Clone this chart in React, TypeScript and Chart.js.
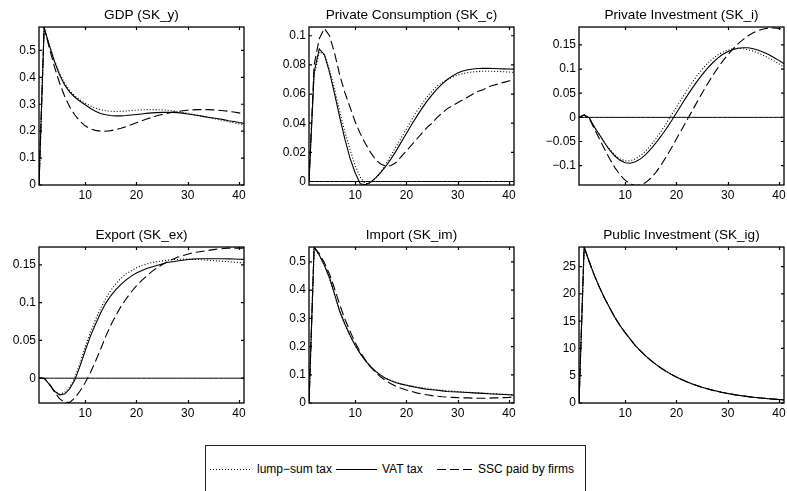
import React, { useEffect, useRef } from "react";
import { Chart, registerables } from "chart.js";

Chart.register(...registerables);

// ---------- data ----------
const PERIODS = [1, 2, 3, 4, 5, 6, 7, 8, 9, 10, 11, 12, 13, 14, 15, 16, 17, 18, 19, 20, 21, 22, 23, 24, 25, 26, 27, 28, 29, 30, 31, 32, 33, 34, 35, 36, 37, 38, 39, 40, 41];
const SERIES_LABELS = ["lump\u2212sum tax", "VAT tax", "SSC paid by firms"];
const X_TICKS = [10, 20, 30, 40];

const GDP_LUMP = [0, 0.585, 0.52, 0.463, 0.415, 0.378, 0.351, 0.331, 0.316, 0.304, 0.294, 0.286, 0.28, 0.276, 0.274, 0.273, 0.274, 0.275, 0.277, 0.278, 0.279, 0.28, 0.28, 0.28, 0.279, 0.278, 0.276, 0.273, 0.27, 0.267, 0.263, 0.259, 0.255, 0.251, 0.247, 0.243, 0.239, 0.235, 0.231, 0.227, 0.222];
const GDP_VAT = [0, 0.585, 0.52, 0.46, 0.41, 0.372, 0.345, 0.326, 0.311, 0.298, 0.285, 0.274, 0.266, 0.261, 0.258, 0.257, 0.257, 0.258, 0.26, 0.262, 0.264, 0.266, 0.268, 0.269, 0.27, 0.27, 0.27, 0.269, 0.267, 0.264, 0.261, 0.258, 0.255, 0.252, 0.249, 0.246, 0.243, 0.239, 0.236, 0.232, 0.229];
const GDP_SSC = [0, 0.585, 0.51, 0.44, 0.38, 0.33, 0.29, 0.26, 0.237, 0.22, 0.209, 0.203, 0.2, 0.2, 0.202, 0.206, 0.211, 0.217, 0.224, 0.231, 0.238, 0.245, 0.251, 0.257, 0.262, 0.266, 0.27, 0.273, 0.276, 0.278, 0.279, 0.28, 0.28, 0.28, 0.279, 0.278, 0.276, 0.274, 0.271, 0.268, 0.264];

const CONS_LUMP = [0, 0.073, 0.089, 0.087, 0.077, 0.063, 0.048, 0.034, 0.022, 0.011, 0.003, -0.0015, -0.001, 0.002, 0.0065, 0.012, 0.018, 0.024, 0.03, 0.036, 0.042, 0.048, 0.053, 0.058, 0.062, 0.0655, 0.068, 0.07, 0.0717, 0.073, 0.074, 0.0747, 0.0752, 0.0755, 0.0757, 0.0757, 0.0756, 0.0755, 0.0753, 0.0751, 0.0749];
const CONS_VAT = [0, 0.075, 0.091, 0.087, 0.075, 0.06, 0.044, 0.029, 0.016, 0.006, -0.0015, -0.0022, -0.0005, 0.0025, 0.0062, 0.0105, 0.0155, 0.021, 0.027, 0.033, 0.039, 0.0445, 0.05, 0.055, 0.0595, 0.0635, 0.067, 0.07, 0.0725, 0.0745, 0.0758, 0.0767, 0.0772, 0.0775, 0.0776, 0.0776, 0.0775, 0.0774, 0.0773, 0.0772, 0.0771];
const CONS_SSC = [0, 0.08, 0.098, 0.105, 0.1, 0.088, 0.073, 0.061, 0.051, 0.041, 0.033, 0.026, 0.02, 0.015, 0.012, 0.0105, 0.011, 0.013, 0.017, 0.021, 0.025, 0.029, 0.033, 0.037, 0.04, 0.044, 0.047, 0.05, 0.052, 0.054, 0.056, 0.058, 0.06, 0.062, 0.063, 0.065, 0.066, 0.067, 0.068, 0.069, 0.07];

const INV_LUMP = [0, 0.005, -0.001, -0.02, -0.036, -0.052, -0.066, -0.078, -0.086, -0.09, -0.09, -0.086, -0.079, -0.07, -0.058, -0.044, -0.029, -0.013, 0.004, 0.021, 0.038, 0.055, 0.071, 0.086, 0.099, 0.111, 0.121, 0.129, 0.135, 0.139, 0.142, 0.143, 0.142, 0.14, 0.137, 0.133, 0.128, 0.123, 0.117, 0.111, 0.104];
const INV_VAT = [0, 0.005, -0.001, -0.02, -0.036, -0.053, -0.068, -0.08, -0.089, -0.094, -0.095, -0.092, -0.086, -0.077, -0.066, -0.053, -0.039, -0.024, -0.008, 0.009, 0.026, 0.043, 0.059, 0.074, 0.088, 0.101, 0.112, 0.122, 0.13, 0.136, 0.14, 0.143, 0.144, 0.144, 0.142, 0.139, 0.135, 0.13, 0.124, 0.118, 0.111];
const INV_SSC = [0, 0.005, -0.002, -0.024, -0.045, -0.066, -0.086, -0.104, -0.119, -0.13, -0.138, -0.141, -0.14, -0.135, -0.126, -0.114, -0.099, -0.082, -0.064, -0.045, -0.026, -0.007, 0.012, 0.031, 0.05, 0.068, 0.085, 0.101, 0.116, 0.129, 0.141, 0.152, 0.161, 0.169, 0.175, 0.18, 0.183, 0.185, 0.185, 0.184, 0.182];

const EX_LUMP = [0, 0, -0.008, -0.017, -0.021, -0.019, -0.012, 0.001, 0.02, 0.041, 0.06, 0.077, 0.092, 0.105, 0.116, 0.125, 0.132, 0.138, 0.142, 0.146, 0.149, 0.151, 0.153, 0.154, 0.155, 0.156, 0.157, 0.157, 0.1575, 0.1575, 0.157, 0.157, 0.1565, 0.156, 0.1555, 0.155, 0.1545, 0.154, 0.1535, 0.153, 0.1525];
const EX_VAT = [0, 0, -0.008, -0.017, -0.022, -0.021, -0.014, -0.002, 0.016, 0.036, 0.055, 0.071, 0.086, 0.099, 0.109, 0.117, 0.124, 0.13, 0.135, 0.139, 0.142, 0.145, 0.147, 0.149, 0.151, 0.153, 0.154, 0.155, 0.156, 0.157, 0.1575, 0.158, 0.158, 0.158, 0.158, 0.158, 0.158, 0.1578, 0.1576, 0.1574, 0.1572];
const EX_SSC = [0, 0, -0.007, -0.018, -0.027, -0.032, -0.032, -0.026, -0.017, -0.006, 0.007, 0.022, 0.038, 0.055, 0.07, 0.083, 0.095, 0.105, 0.114, 0.122, 0.129, 0.135, 0.141, 0.146, 0.15, 0.154, 0.157, 0.16, 0.162, 0.164, 0.166, 0.167, 0.168, 0.169, 0.17, 0.171, 0.1715, 0.172, 0.172, 0.172, 0.172];

const IM_LUMP = [0, 0.552, 0.524, 0.486, 0.441, 0.383, 0.323, 0.278, 0.239, 0.204, 0.175, 0.15, 0.13, 0.113, 0.099, 0.088, 0.08, 0.073, 0.068, 0.064, 0.06, 0.057, 0.054, 0.051, 0.049, 0.047, 0.045, 0.043, 0.042, 0.041, 0.039, 0.038, 0.037, 0.036, 0.035, 0.034, 0.033, 0.032, 0.031, 0.03, 0.029];
const IM_VAT = [0, 0.552, 0.525, 0.488, 0.445, 0.385, 0.325, 0.28, 0.24, 0.205, 0.175, 0.15, 0.13, 0.112, 0.098, 0.087, 0.079, 0.072, 0.067, 0.063, 0.059, 0.055, 0.052, 0.049, 0.047, 0.045, 0.043, 0.041, 0.04, 0.039, 0.038, 0.037, 0.036, 0.035, 0.034, 0.033, 0.032, 0.031, 0.03, 0.029, 0.028];
const IM_SSC = [0, 0.552, 0.53, 0.497, 0.457, 0.405, 0.348, 0.298, 0.254, 0.215, 0.181, 0.152, 0.128, 0.108, 0.092, 0.079, 0.068, 0.059, 0.052, 0.046, 0.041, 0.036, 0.032, 0.029, 0.026, 0.024, 0.022, 0.021, 0.02, 0.019, 0.018, 0.018, 0.017, 0.017, 0.017, 0.017, 0.018, 0.018, 0.019, 0.02, 0.022];

const PUB_LUMP = [0, 28.6, 25.9, 23.4, 21.2, 19.2, 17.4, 15.7, 14.2, 12.9, 11.7, 10.5, 9.55, 8.64, 7.82, 7.08, 6.41, 5.8, 5.25, 4.75, 4.3, 3.89, 3.52, 3.19, 2.88, 2.61, 2.36, 2.14, 1.93, 1.75, 1.58, 1.43, 1.3, 1.17, 1.06, 0.96, 0.87, 0.79, 0.71, 0.64, 0.58];
const PUB_VAT = [0, 28.6, 25.9, 23.4, 21.2, 19.2, 17.4, 15.7, 14.2, 12.9, 11.7, 10.5, 9.55, 8.64, 7.82, 7.08, 6.41, 5.8, 5.25, 4.75, 4.3, 3.89, 3.52, 3.19, 2.88, 2.61, 2.36, 2.14, 1.93, 1.75, 1.58, 1.43, 1.3, 1.17, 1.06, 0.96, 0.87, 0.79, 0.71, 0.64, 0.58];
const PUB_SSC = [0, 28.6, 25.9, 23.4, 21.2, 19.2, 17.4, 15.7, 14.2, 12.9, 11.7, 10.5, 9.55, 8.64, 7.82, 7.08, 6.41, 5.8, 5.25, 4.75, 4.3, 3.89, 3.52, 3.19, 2.88, 2.61, 2.36, 2.14, 1.93, 1.75, 1.58, 1.43, 1.3, 1.17, 1.06, 0.96, 0.87, 0.79, 0.71, 0.64, 0.58];

const GDP_YTICKS = [0, 0.1, 0.2, 0.3, 0.4, 0.5];
const CONS_YTICKS = [0, 0.02, 0.04, 0.06, 0.08, 0.1];
const INV_YTICKS = [-0.1, -0.05, 0, 0.05, 0.1, 0.15];
const EX_YTICKS = [0, 0.05, 0.1, 0.15];
const IM_YTICKS = [0, 0.1, 0.2, 0.3, 0.4, 0.5];
const PUB_YTICKS = [0, 5, 10, 15, 20, 25];

// ---------- layout / style ----------
const FONT = "'Liberation Sans', Arial, Helvetica, sans-serif";
const PAD_L = 39;
const PAD_T = 27;
const PAD_R = 3;
const PAD_B = 20;
const PLOT_W = 205;
const DASHES = [[1, 2], [], [9, 4]];

type PanelCfg = {
  title: string;
  series: number[][];
  yTicks: number[];
  yMin: number;
  yMax: number;
  zero: boolean;
  left: number;
  top: number;
  height: number;
};

const PANELS: PanelCfg[] = [
  { title: "GDP (SK_y)", series: [GDP_LUMP, GDP_VAT, GDP_SSC], yTicks: GDP_YTICKS, yMin: 0, yMax: 0.587, zero: false, left: 39, top: 27, height: 158 },
  { title: "Private Consumption (SK_c)", series: [CONS_LUMP, CONS_VAT, CONS_SSC], yTicks: CONS_YTICKS, yMin: -0.0024, yMax: 0.106, zero: true, left: 309, top: 27, height: 158 },
  { title: "Private Investment (SK_i)", series: [INV_LUMP, INV_VAT, INV_SSC], yTicks: INV_YTICKS, yMin: -0.14, yMax: 0.187, zero: true, left: 579, top: 27, height: 158 },
  { title: "Export (SK_ex)", series: [EX_LUMP, EX_VAT, EX_SSC], yTicks: EX_YTICKS, yMin: -0.0328, yMax: 0.1735, zero: true, left: 39, top: 247, height: 156 },
  { title: "Import (SK_im)", series: [IM_LUMP, IM_VAT, IM_SSC], yTicks: IM_YTICKS, yMin: 0, yMax: 0.553, zero: false, left: 309, top: 247, height: 156 },
  { title: "Public Investment (SK_ig)", series: [PUB_LUMP, PUB_VAT, PUB_SSC], yTicks: PUB_YTICKS, yMin: 0, yMax: 28.6, zero: false, left: 579, top: 247, height: 156 },
];

const fmtTick = (v: number) => {
  const s = String(Math.round(v * 10000) / 10000);
  return s.replace("-", "\u2212");
};

const boxPlugin = {
  id: "matlabBox",
  afterDatasetsDraw(chart: any) {
    const { ctx, chartArea: a, scales } = chart;
    const tl = 3;
    ctx.save();
    ctx.strokeStyle = "#000";
    ctx.lineWidth = 1.2;
    ctx.beginPath();
    scales.x.ticks.forEach((t: any) => {
      const px = Math.round(scales.x.getPixelForValue(t.value)) + 0.5;
      ctx.moveTo(px, a.bottom);
      ctx.lineTo(px, a.bottom - tl);
      ctx.moveTo(px, a.top);
      ctx.lineTo(px, a.top + tl);
    });
    scales.y.ticks.forEach((t: any) => {
      const py = scales.y.getPixelForValue(t.value);
      ctx.moveTo(a.left, py);
      ctx.lineTo(a.left + tl, py);
      ctx.moveTo(a.right, py);
      ctx.lineTo(a.right - tl, py);
    });
    ctx.stroke();
    ctx.lineWidth = 1.3;
    ctx.strokeRect(a.left, a.top, a.right - a.left, a.bottom - a.top);
    ctx.restore();
  },
};

function Panel({ cfg }: { cfg: PanelCfg }) {
  const ref = useRef<HTMLCanvasElement>(null);
  const W = PAD_L + PLOT_W + PAD_R;
  const H = PAD_T + cfg.height + PAD_B;

  useEffect(() => {
    const datasets: any[] = cfg.series.map((vals, i) => ({
      label: SERIES_LABELS[i],
      data: PERIODS.map((p, k) => ({ x: p, y: vals[k] })),
      borderColor: "#000",
      borderWidth: 1.1,
      borderDash: DASHES[i],
      pointRadius: 0,
      tension: 0,
      fill: false,
    }));
    if (cfg.zero) {
      datasets.push({
        label: "zero",
        data: PERIODS.map((p) => ({ x: p, y: 0 })),
        borderColor: "#000",
        borderWidth: 1,
        pointRadius: 0,
        fill: false,
      });
    }
    const chart = new Chart(ref.current as HTMLCanvasElement, {
      type: "line",
      data: { datasets },
      options: {
        responsive: false,
        animation: false,
        devicePixelRatio: 1,
        layout: { padding: { left: 0, right: PAD_R, top: 0, bottom: 0 } },
        plugins: {
          legend: { display: false },
          tooltip: { enabled: false },
          title: {
            display: true,
            text: cfg.title,
            color: "#000",
            fullSize: false,
            font: { family: FONT, size: 13.6, weight: "normal", lineHeight: 1.2 },
            padding: { top: 7.5, bottom: 3.2 },
          },
        },
        scales: {
          x: {
            type: "linear",
            min: 1,
            max: 41,
            grid: { display: false, drawTicks: false, tickLength: 0 },
            border: { display: false },
            afterBuildTicks: (s: any) => {
              s.ticks = X_TICKS.map((v) => ({ value: v }));
            },
            afterFit: (s: any) => {
              s.height = PAD_B;
              s.paddingLeft = 0;
              s.paddingRight = 0;
            },
            ticks: {
              color: "#000",
              font: { family: FONT, size: 12 },
              padding: 3,
              maxRotation: 0,
              autoSkip: false,
              callback: (v: any) => fmtTick(Number(v)),
            },
          },
          y: {
            type: "linear",
            min: cfg.yMin,
            max: cfg.yMax,
            grid: { display: false, drawTicks: false, tickLength: 0 },
            border: { display: false },
            afterBuildTicks: (s: any) => {
              s.ticks = cfg.yTicks.map((v) => ({ value: v }));
            },
            afterFit: (s: any) => {
              s.width = PAD_L;
              s.paddingTop = 0;
              s.paddingBottom = 0;
            },
            ticks: {
              color: "#000",
              font: { family: FONT, size: 12 },
              padding: 3,
              autoSkip: false,
              callback: (v: any) => fmtTick(Number(v)),
            },
          },
        },
      } as any,
      plugins: [boxPlugin],
    });
    return () => chart.destroy();
  }, []);

  return (
    <canvas
      ref={ref}
      width={W}
      height={H}
      style={{ position: "absolute", left: cfg.left - PAD_L, top: cfg.top - PAD_T, width: W, height: H }}
    />
  );
}

function LegendSample({ left, width, dash }: { left: number; width: number; dash: number[] }) {
  return (
    <svg
      width={width}
      height={9}
      style={{ position: "absolute", left, top: 465 }}
    >
      <line x1={0} y1={4.5} x2={width} y2={4.5} stroke="#000" strokeWidth={1} strokeDasharray={dash.length ? dash.join(",") : undefined} />
    </svg>
  );
}

function LegendText({ left, text }: { left: number; text: string }) {
  return (
    <div
      style={{
        position: "absolute",
        left,
        top: 462,
        height: 15,
        lineHeight: "15px",
        fontFamily: FONT,
        fontSize: 12,
        color: "#000",
        whiteSpace: "nowrap",
      }}
    >
      {text}
    </div>
  );
}

export default function App() {
  return (
    <div
      style={{
        position: "fixed",
        left: 0,
        top: 0,
        width: 787,
        height: 491,
        background: "#fff",
        overflow: "hidden",
      }}
    >
      {PANELS.map((p, i) => (
        <Panel key={i} cfg={p} />
      ))}
      <div
        style={{
          position: "absolute",
          left: 205,
          top: 445,
          width: 381,
          height: 50,
          border: "1px solid #222",
          boxSizing: "border-box",
        }}
      />
      <LegendSample left={210} width={42} dash={DASHES[0]} />
      <LegendText left={257} text={SERIES_LABELS[0]} />
      <LegendSample left={336} width={41} dash={DASHES[1]} />
      <LegendText left={382} text={SERIES_LABELS[1]} />
      <LegendSample left={437} width={35} dash={DASHES[2]} />
      <LegendText left={478} text={SERIES_LABELS[2]} />
    </div>
  );
}
